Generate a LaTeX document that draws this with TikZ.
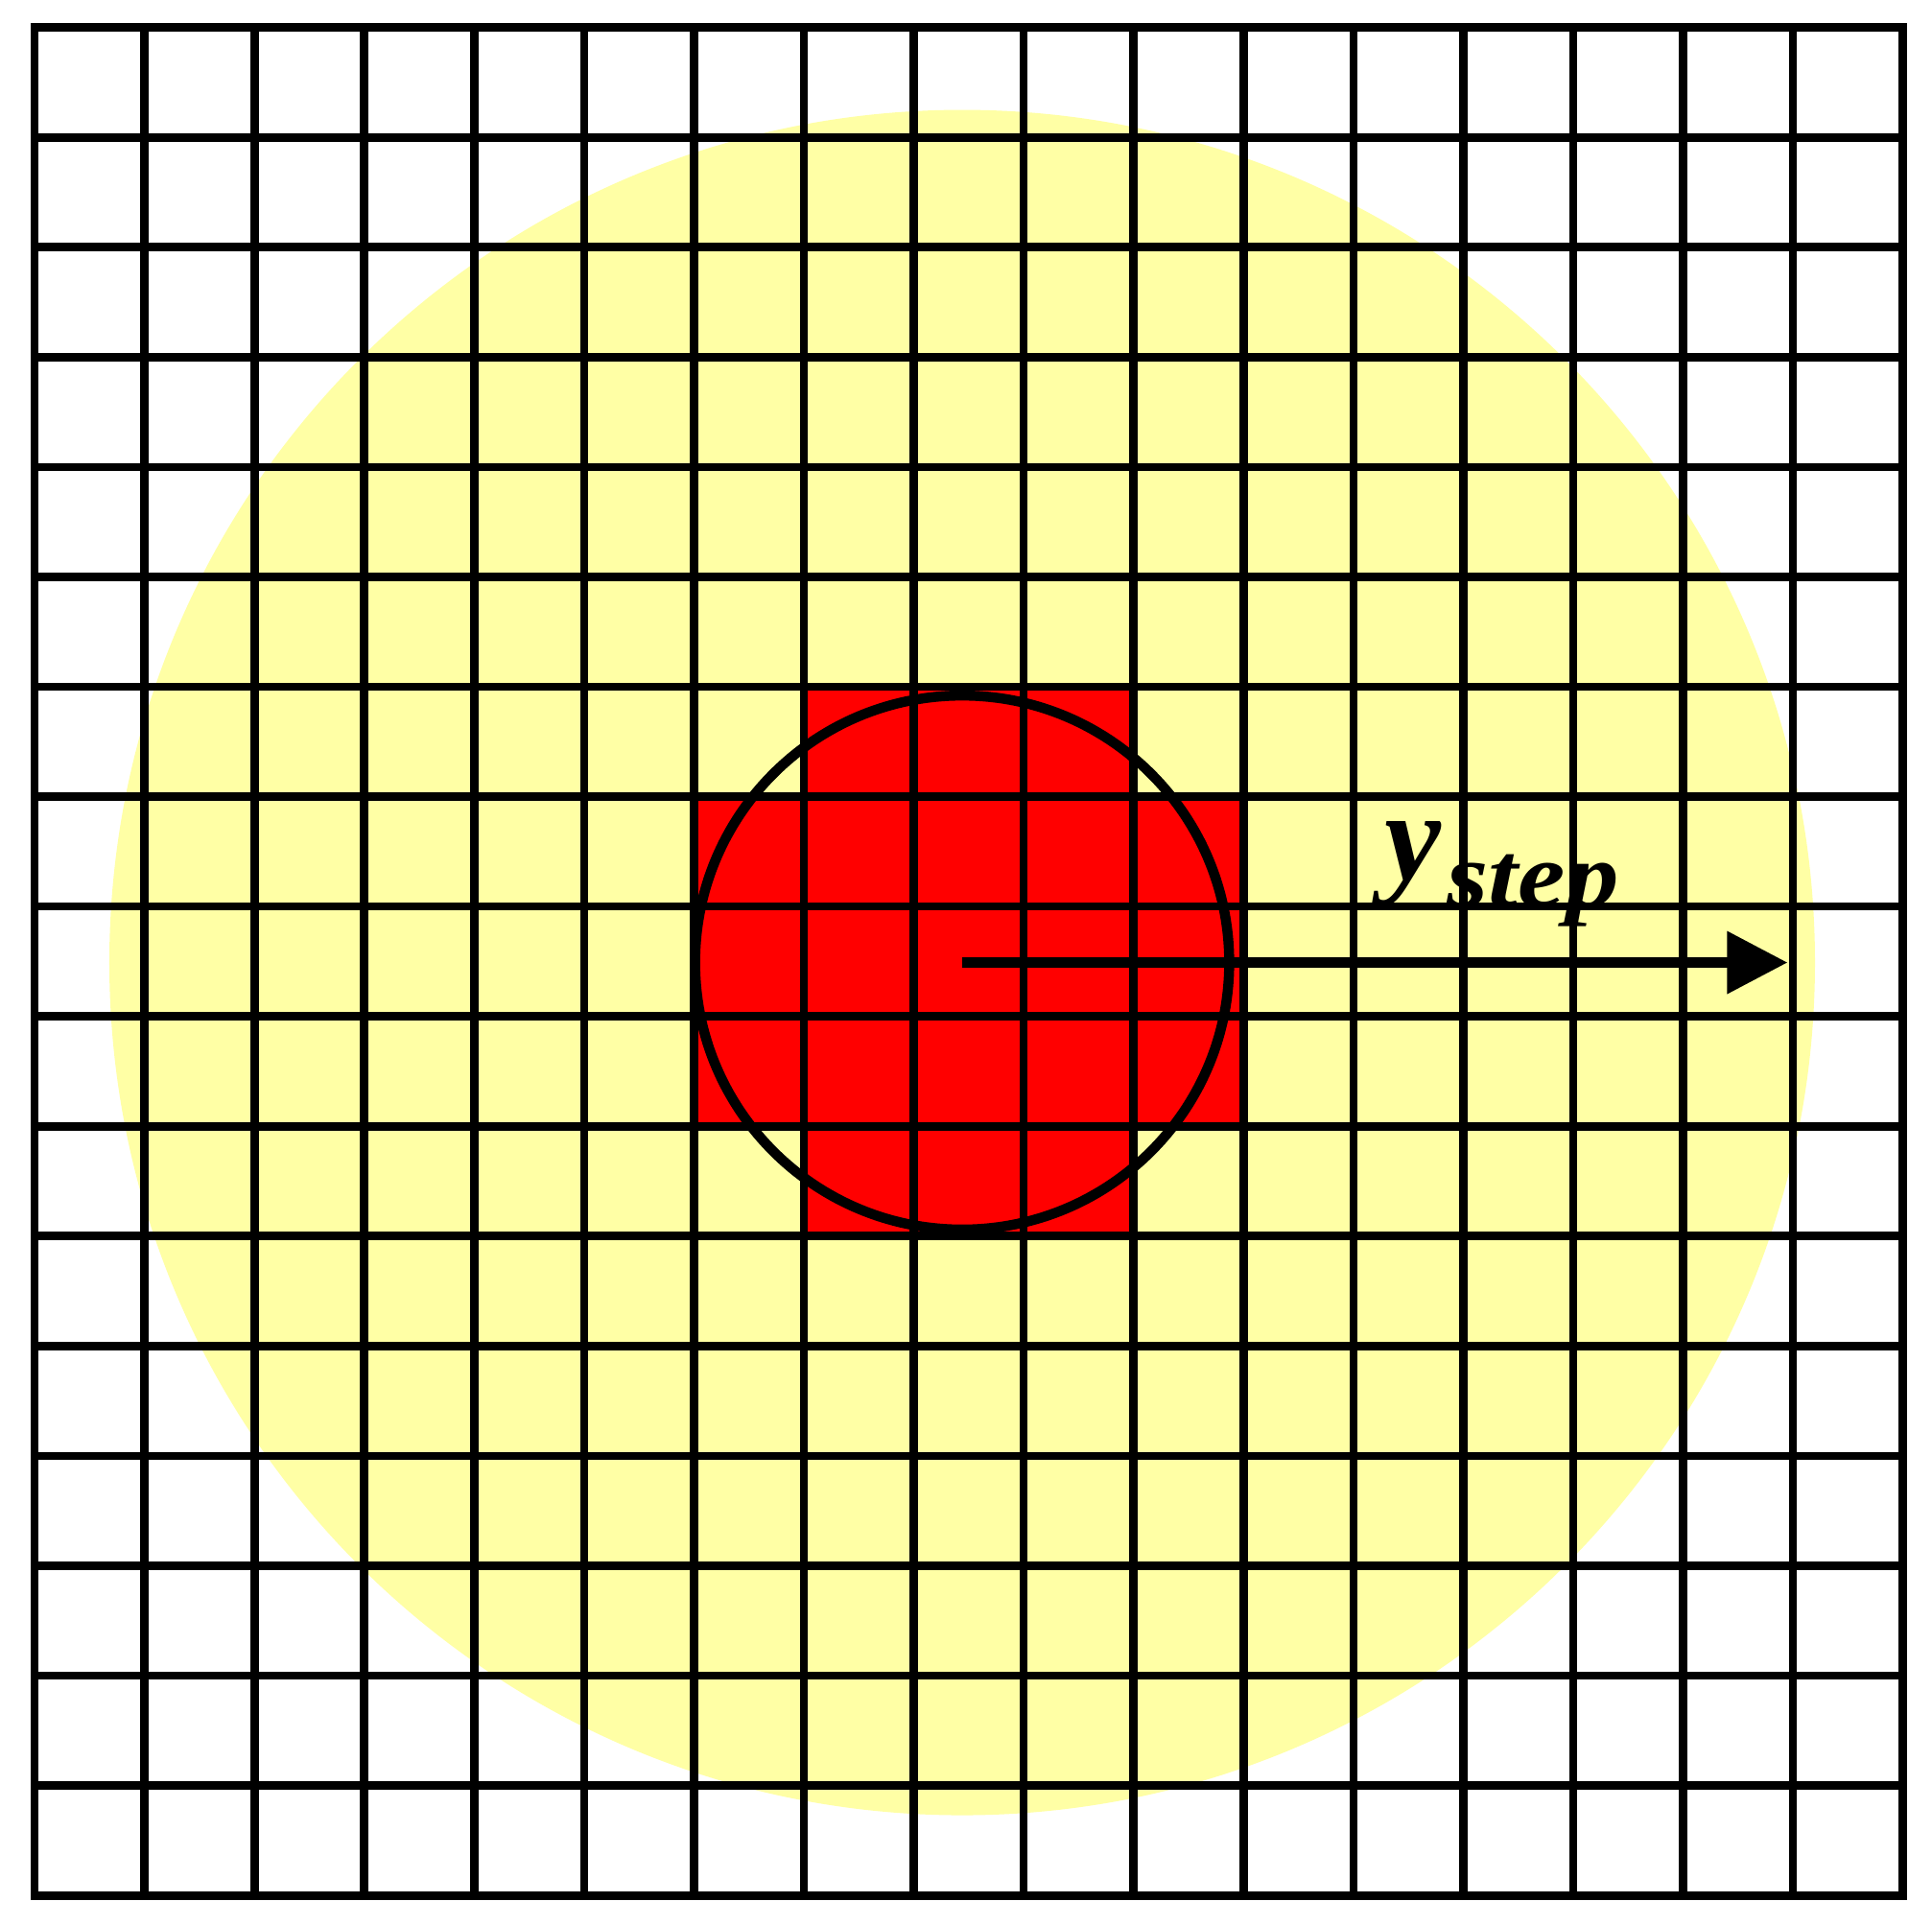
\documentclass[tikz,border=0pt]{standalone}
\usepackage{fontspec}
\newfontfamily\labelfont{Liberation Serif}
\newfontfamily\subfont[FakeStretch=1.15]{Liberation Serif}
\usetikzlibrary{arrows.meta}
\definecolor{paleyellow}{RGB}{255,255,165}
\definecolor{cellred}{RGB}{255,0,0}
\tikzset{
  gridline/.style={line width=2.15pt, line cap=rect, black},
  ringline/.style={line width=2.6pt, black},
  steparrow/.style={line width=2.6pt, black, -{Triangle[length=0.55cm,width=0.55cm]}},
  redcell/.style={fill=cellred, draw=none},
  steplabel/.style={anchor=base west, inner sep=0pt, font=\labelfont\bfseries\itshape}
}
\begin{document}
\begin{tikzpicture}
\useasboundingbox[fill=white] (-0.315,-0.265) rectangle (17.265,17.25);
\coordinate (c) at (8.44,8.49);
\coordinate (tip) at (15.95,8.49);
% yellow disc
\fill[paleyellow] (c) circle[radius=7.76];
% red cells
\fill[redcell] (7,10) rectangle (10,11);
\fill[redcell] (6,7) rectangle (11,10);
\fill[redcell] (7,6) rectangle (10,7);
% grid
\draw[gridline] (0,0) grid (17,17);
% circle
\draw[ringline] (c) circle[radius=2.43];
% arrow
\draw[steparrow] (c) -- (tip);
% label
\node[steplabel] (lbl) at (12.28,9.24) {\fontsize{33}{36}\selectfont y\kern1.5pt\raisebox{-6.8pt}{\subfont\bfseries\itshape\fontsize{24}{28}\selectfont step}};
\end{tikzpicture}
\end{document}
